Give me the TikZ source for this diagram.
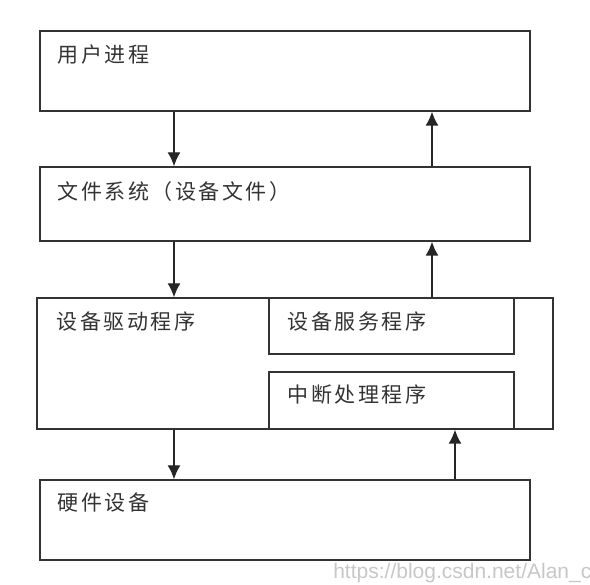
\documentclass[tikz,border=0pt]{standalone}
\usepackage{fontspec}
\usepackage{tikz}
\usetikzlibrary{arrows.meta}
\newfontfamily\cjk{Noto Sans CJK SC}[LetterSpace=12]
\newfontfamily\wmfont{Liberation Sans}

\begin{document}
\begin{tikzpicture}
	[x=1pt,y=-1pt,line width=1.4pt,draw=black!85,
	box/.style={rectangle,draw=black!80,line width=1.4pt,inner sep=0pt},
	lbl/.style={anchor=west,inner sep=0pt,font=\cjk\fontsize{21}{24}\selectfont,text=black!80},
	flow/.style={draw=black!85,line width=1.4pt,-{Latex[length=14pt,width=13pt]}}]
	\useasboundingbox (0,0) rectangle (590,585);
	\node[box,minimum width=490pt,minimum height=80pt] (user) at (285,71) {};
	\node[box,minimum width=490pt,minimum height=74pt] (fs) at (285,204) {};
	\node[box,minimum width=516pt,minimum height=131pt] (drv) at (295,363.5) {};
	\node[box,minimum width=245pt,minimum height=56pt] (svc) at (391.5,326) {};
	\node[box,minimum width=245pt,minimum height=57pt] (irq) at (391.5,400.5) {};
	\node[box,minimum width=490pt,minimum height=80pt] (hw) at (285,520) {};

	\node[lbl] (t1) at (57,55) {用户进程};
	\node[lbl] (t2) at (57,192) {文件系统（设备文件）};
	\node[lbl] (t3) at (56,322) {设备驱动程序};
	\node[lbl] (t4) at (287,322) {设备服务程序};
	\node[lbl] (t5) at (287,395) {中断处理程序};
	\node[lbl] (t6) at (57,503) {硬件设备};

	\node[anchor=east,inner sep=0pt,font=\wmfont\fontsize{21}{24}\selectfont,text=black!22] (wm) at (592,573) {https://blog.csdn.net/Alan\_c};

	\coordinate (dn) at (174,0);
	\coordinate (up) at (432,0);
	\coordinate (hup) at (455,0);
	\foreach \from/\to in {user/fs,fs/drv,drv/hw}
	\draw[flow] (\from.south -| dn) -- (\to.north -| dn);
	\foreach \from/\to in {fs/user,drv/fs}
	\draw[flow] (\from.north -| up) -- (\to.south -| up);
	\draw[flow] (hw.north -| hup) -- (irq.south -| hup);
\end{tikzpicture}
\end{document}
